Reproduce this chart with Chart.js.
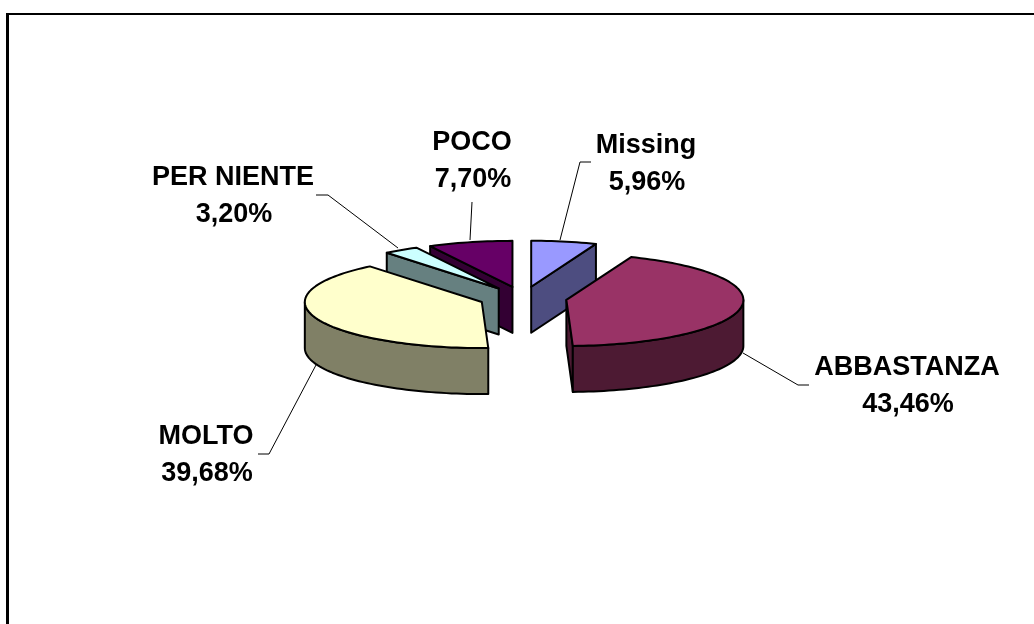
<!DOCTYPE html>
<html>
<head>
<meta charset="utf-8">
<title>Pie</title>
<script src="https://cdn.jsdelivr.net/npm/chart.js@4/dist/chart.umd.min.js"></script>
<style>
    html, body { margin: 0; padding: 0; background: #fff; }
    #wrap { position: relative; width: 1034px; height: 624px; overflow: hidden; }
    #frame { position: absolute; left: 6px; top: 13px; width: 1100px; height: 700px; border-left: 3px solid #000; border-top: 2px solid #000; box-sizing: border-box; }
    canvas { position: absolute; left: 0; top: 0; }
</style>
</head>
<body>
<div id="wrap">
    <div id="frame"></div>
    <canvas id="pieChart" width="1034" height="624"></canvas>
</div>
<script>
const categories = ["Missing", "ABBASTANZA", "MOLTO", "PER NIENTE", "POCO"];
const percentages = [5.96, 43.46, 39.68, 3.20, 7.70];
const topColors = ["#9999ff", "#993366", "#ffffcc", "#ccffff", "#660066"];
const sideColors = ["#4d4d80", "#4d1a33", "#808066", "#668080", "#330033"];

// Look of the fake 3D pie
const pieRadius = 177;
const explode = 44;
const tilt = 0.26;
const depth = 46;
const paintOrder = [4, 3, 2, 0, 1];

// Where each label sits (centre x, first baseline) and where its leader line runs
const labelPlaces = [
    { x: 646, y: 153, line: [[591, 162], [580, 162], [560, 240]] },
    { x: 907, y: 375, line: [[809, 385], [798, 385], [743, 353]] },
    { x: 206, y: 444, line: [[258, 454], [269, 454], [316, 365]] },
    { x: 233, y: 185, line: [[316, 195], [328, 195], [398, 248]] },
    { x: 472, y: 150, line: [[472, 202], [470, 240]] }
];

function project(arc, angle, radius, drop) {
    const mid = (arc.startAngle + arc.endAngle) / 2;
    return {
        x: arc.x + explode * Math.cos(mid) + radius * Math.cos(angle),
        y: arc.y + tilt * (explode * Math.sin(mid) + radius * Math.sin(angle)) + drop
    };
}

function rimPath(ctx, arc, from, to, drop) {
    const steps = Math.max(2, Math.ceil(Math.abs(to - from) / 0.03));
    for (let i = 0; i <= steps; i++) {
        const a = from + (to - from) * i / steps;
        const p = project(arc, a, arc.outerRadius, drop);
        ctx.lineTo(p.x, p.y);
    }
}

function drawCutFace(ctx, arc, angle, color) {
    const apex = project(arc, angle, 0, 0);
    const rim = project(arc, angle, arc.outerRadius, 0);
    ctx.beginPath();
    ctx.moveTo(apex.x, apex.y);
    ctx.lineTo(rim.x, rim.y);
    ctx.lineTo(rim.x, rim.y + depth);
    ctx.lineTo(apex.x, apex.y + depth);
    ctx.closePath();
    ctx.fillStyle = color;
    ctx.fill();
    ctx.stroke();
}

function drawRimFace(ctx, arc, color) {
    // only the part of the rim turned to the viewer (angles 0..PI in canvas terms)
    for (let turn = -1; turn <= 1; turn++) {
        const a = Math.max(arc.startAngle, turn * 2 * Math.PI);
        const b = Math.min(arc.endAngle, turn * 2 * Math.PI + Math.PI);
        if (b <= a) continue;
        ctx.beginPath();
        const first = project(arc, a, arc.outerRadius, 0);
        ctx.moveTo(first.x, first.y);
        rimPath(ctx, arc, a, b, 0);
        rimPath(ctx, arc, b, a, depth);
        ctx.closePath();
        ctx.fillStyle = color;
        ctx.fill();
        ctx.stroke();
    }
}

function drawTopOutline(ctx, arc) {
    const apex = project(arc, arc.startAngle, 0, 0);
    ctx.beginPath();
    ctx.moveTo(apex.x, apex.y);
    rimPath(ctx, arc, arc.startAngle, arc.endAngle, 0);
    ctx.closePath();
    ctx.stroke();
}

const pie3d = {
    id: "pie3d",
    beforeDatasetsDraw(chart) {
        const ctx = chart.ctx;
        const arcs = chart.getDatasetMeta(0).data;
        ctx.save();
        ctx.lineWidth = 2;
        ctx.lineJoin = "round";
        ctx.strokeStyle = "#000";
        paintOrder.forEach((i) => {
            const arc = arcs[i];
            // a cut face shows only if it is turned towards the viewer
            if (Math.cos(arc.startAngle) < 0) drawCutFace(ctx, arc, arc.startAngle, sideColors[i]);
            if (Math.cos(arc.endAngle) > 0.001) drawCutFace(ctx, arc, arc.endAngle, sideColors[i]);
            drawRimFace(ctx, arc, sideColors[i]);

            // top of the slice: the library's own arc, squashed and pulled out
            const mid = (arc.startAngle + arc.endAngle) / 2;
            ctx.save();
            ctx.translate(explode * Math.cos(mid), arc.y + tilt * explode * Math.sin(mid));
            ctx.scale(1, tilt);
            ctx.translate(0, -arc.y);
            arc.draw(ctx);
            ctx.restore();
            drawTopOutline(ctx, arc);
        });
        ctx.restore();
        return false;
    },
    afterDraw(chart) {
        const ctx = chart.ctx;
        ctx.save();
        ctx.strokeStyle = "#000";
        ctx.lineWidth = 1;
        labelPlaces.forEach((place) => {
            ctx.beginPath();
            place.line.forEach((pt, n) => {
                if (n === 0) ctx.moveTo(pt[0], pt[1]);
                else ctx.lineTo(pt[0], pt[1]);
            });
            ctx.stroke();
        });
        ctx.fillStyle = "#000";
        ctx.font = "bold 27px 'Liberation Sans'";
        ctx.textAlign = "center";
        ctx.textBaseline = "alphabetic";
        categories.forEach((name, i) => {
            const place = labelPlaces[i];
            ctx.fillText(name, place.x, place.y);
            ctx.fillText(percentages[i].toFixed(2).replace(".", ",") + "%", place.x + 1, place.y + 37);
        });
        ctx.restore();
    }
};

new Chart(document.getElementById("pieChart"), {
    type: "pie",
    data: {
        labels: categories,
        datasets: [{
            data: percentages,
            backgroundColor: topColors,
            borderWidth: 0
        }]
    },
    options: {
        responsive: false,
        animation: false,
        radius: pieRadius,
        layout: { padding: { left: 12, bottom: 28 } },
        plugins: {
            legend: { display: false },
            title: { display: false },
            tooltip: { enabled: false }
        }
    },
    plugins: [pie3d]
});
</script>
</body>
</html>
